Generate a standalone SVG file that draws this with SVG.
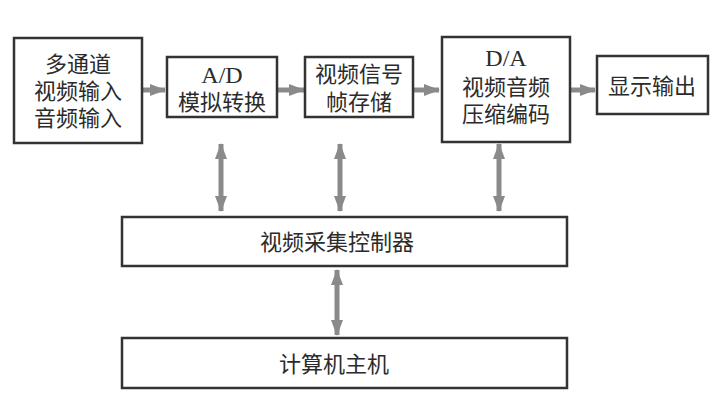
<svg xmlns="http://www.w3.org/2000/svg" width="720" height="400" viewBox="0 0 720 400">
<style>
.box{fill:#fff;stroke:#333;stroke-width:2.5}
.t{font-family:"Noto Sans CJK SC","Liberation Serif",serif;font-size:22px;fill:#2b2b2b;text-anchor:middle}
.l{font-family:"Liberation Serif","Noto Sans CJK SC",serif;font-size:24px}
.c{stroke:#8a8a8a;stroke-width:5;fill:none}
</style>
<defs>
<marker id="ah" markerUnits="userSpaceOnUse" markerWidth="16" markerHeight="12" refX="15" refY="6" orient="auto-start-reverse" viewBox="0 0 16 12">
<path d="M0,0 L16,6 L0,12 Z" fill="#8a8a8a"/>
</marker>
</defs>
<rect width="720" height="400" fill="#fff"/>
<g id="connectors">
<line class="c" x1="132" y1="90" x2="165" y2="90" marker-end="url(#ah)"/>
<line class="c" x1="272" y1="90" x2="304" y2="90" marker-end="url(#ah)"/>
<line class="c" x1="407" y1="90" x2="439" y2="90" marker-end="url(#ah)"/>
<line class="c" x1="563" y1="90" x2="595" y2="90" marker-end="url(#ah)"/>
<line class="c" x1="221" y1="144" x2="221" y2="211" marker-start="url(#ah)" marker-end="url(#ah)"/>
<line class="c" x1="340" y1="144" x2="340" y2="211" marker-start="url(#ah)" marker-end="url(#ah)"/>
<line class="c" x1="499" y1="144" x2="499" y2="211" marker-start="url(#ah)" marker-end="url(#ah)"/>
<line class="c" x1="337" y1="270" x2="337" y2="335" marker-start="url(#ah)" marker-end="url(#ah)"/>
</g>
<g id="input">
<rect class="box" x="14" y="38" width="128" height="105"/>
<text class="t"><tspan x="78" y="72">多通道</tspan><tspan x="78" y="99">视频输入</tspan><tspan x="78" y="126">音频输入</tspan></text>
</g>
<g id="ad">
<rect class="box" x="167" y="57" width="110" height="60"/>
<text class="t"><tspan class="l" x="222" y="83">A/D</tspan><tspan x="222" y="110">模拟转换</tspan></text>
</g>
<g id="framestore">
<rect class="box" x="305" y="57" width="108" height="60"/>
<text class="t"><tspan x="359" y="82">视频信号</tspan><tspan x="359" y="110">帧存储</tspan></text>
</g>
<g id="da">
<rect class="box" x="442" y="37" width="128" height="105"/>
<text class="t"><tspan class="l" x="506" y="66">D/A</tspan><tspan x="506" y="95">视频音频</tspan><tspan x="506" y="122">压缩编码</tspan></text>
</g>
<g id="display">
<rect class="box" x="597" y="56" width="111" height="58"/>
<text class="t" x="652" y="94">显示输出</text>
</g>
<g id="controller">
<rect class="box" x="122" y="217" width="445" height="49"/>
<text class="t" x="337" y="250">视频采集控制器</text>
</g>
<g id="host">
<rect class="box" x="122" y="338" width="445" height="50"/>
<text class="t" x="334" y="372">计算机主机</text>
</g>
</svg>
